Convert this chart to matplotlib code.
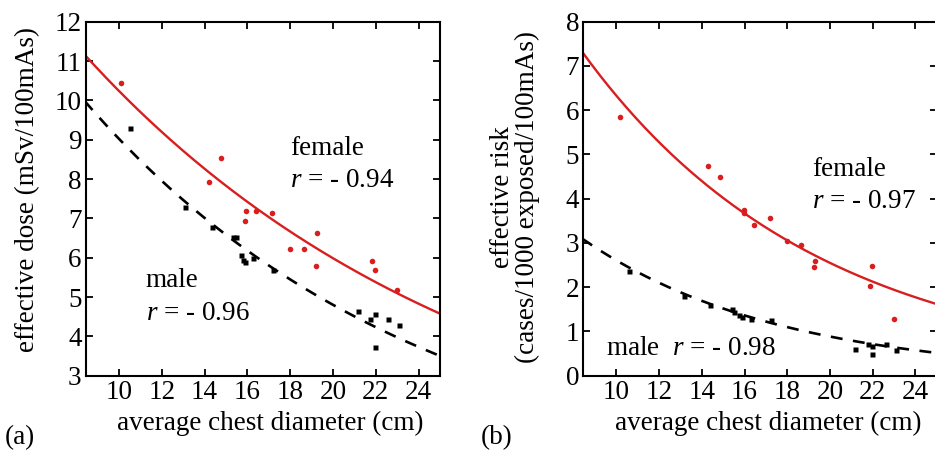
import numpy as np
import matplotlib
matplotlib.use("Agg")
import matplotlib.pyplot as plt

# ── Data ──────────────────────────────────────────────────────────────────────

# (a) effective dose
dose_f_x = [10.08, 14.23, 14.78, 15.92, 15.90, 16.42, 17.17, 17.98, 18.64, 19.27, 19.22, 21.84, 21.94, 22.97]
dose_f_y = [10.43, 7.92, 8.53, 7.20, 6.94, 7.19, 7.13, 6.21, 6.21, 6.64, 5.78, 5.92, 5.69, 5.18]
dose_m_x = [10.52, 13.08, 14.36, 15.31, 15.45, 15.70, 15.78, 15.89, 16.25, 17.19, 21.17, 21.73, 21.98, 21.94, 22.58, 23.10]
dose_m_y = [9.30, 7.28, 6.77, 6.53, 6.53, 6.08, 5.94, 5.90, 6.00, 5.68, 4.65, 4.43, 4.58, 3.73, 4.43, 4.28]

# (b) effective risk
risk_f_x = [10.16, 14.28, 14.84, 15.96, 15.98, 16.44, 17.20, 18.00, 18.66, 19.28, 19.25, 21.85, 21.96, 22.99]
risk_f_y = [5.85, 4.75, 4.50, 3.74, 3.68, 3.40, 3.56, 3.04, 2.96, 2.59, 2.46, 2.03, 2.49, 1.28]
risk_m_x = [10.60, 13.14, 14.39, 15.43, 15.50, 15.75, 15.88, 16.30, 17.22, 21.18, 21.77, 21.97, 21.97, 22.60, 23.10]
risk_m_y = [2.37, 1.80, 1.60, 1.50, 1.44, 1.37, 1.33, 1.28, 1.26, 0.60, 0.71, 0.66, 0.50, 0.72, 0.58]

# exponential fits y = A * exp(-b * x), parameters
fit_dose_f = (17.52, 0.0537)
fit_dose_m = (16.96, 0.0631)
fit_risk_f = (15.70, 0.0909)
fit_risk_m = (7.67, 0.108)

x_ticks = [10, 12, 14, 16, 18, 20, 22, 24]

# ── Style ─────────────────────────────────────────────────────────────────────

plt.rcParams["font.family"] = ["Liberation Serif", "DejaVu Serif"]
plt.rcParams["mathtext.fontset"] = "custom"
plt.rcParams["mathtext.rm"] = "Liberation Serif"
plt.rcParams["mathtext.it"] = "Liberation Serif:italic"

RED = "#d81e1e"
FS = 19.5

fig = plt.figure(figsize=(9.35, 4.58), dpi=100)
ax_a = fig.add_axes([0.0917, 0.1797, 0.379, 0.7729])
ax_b = fig.add_axes([0.6239, 0.1797, 0.378, 0.7729])


def draw_panel(ax, fx, fy, mx, my, fit_f, fit_m, ylim, yticks):
    xs = np.linspace(8.4, 25.0, 200)
    ax.plot(xs, fit_f[0] * np.exp(-fit_f[1] * xs), color=RED, lw=1.7, zorder=2)
    ax.plot(xs, fit_m[0] * np.exp(-fit_m[1] * xs), color="black", lw=1.9,
            dashes=(4.5, 4), zorder=2)
    ax.plot(fx, fy, "o", color=RED, ms=4, mec="none", zorder=3)
    ax.plot(mx, my, "s", color="black", ms=3.6, mec="none", zorder=3)

    ax.set_xlim(8.45, 25.0)
    ax.set_ylim(*ylim)
    ax.set_xticks(x_ticks)
    ax.set_yticks(yticks)
    ax.tick_params(direction="in", top=True, right=True, length=5, width=1.3,
                   labelsize=FS, pad=3)
    for sp in ax.spines.values():
        sp.set_linewidth(1.5)
    ax.set_facecolor("white")


draw_panel(ax_a, dose_f_x, dose_f_y, dose_m_x, dose_m_y, fit_dose_f, fit_dose_m,
           (3, 12), range(3, 13))
draw_panel(ax_b, risk_f_x, risk_f_y, risk_m_x, risk_m_y, fit_risk_f, fit_risk_m,
           (0, 8), range(0, 9))

# annotations
ax_a.text(18.0, 8.78, "female", fontsize=FS, va="center", ha="left")
ax_a.text(18.0, 7.97, "$r$ = - 0.94", fontsize=FS, va="center", ha="left")
ax_a.text(11.25, 5.41, "male", fontsize=FS, va="center", ha="left")
ax_a.text(11.25, 4.58, "$r$ = - 0.96", fontsize=FS, va="center", ha="left")

ax_b.text(19.18, 4.65, "female", fontsize=FS, va="center", ha="left")
ax_b.text(19.18, 3.93, "$r$ = - 0.97", fontsize=FS, va="center", ha="left")
ax_b.text(9.53, 0.62, "male  $r$ = - 0.98", fontsize=FS, va="center", ha="left")

# axis labels
W, H = 935.0, 458.0
fig.text(270 / W, 1 - 423 / H, "average chest diameter (cm)", fontsize=FS,
         ha="center", va="center")
fig.text(768 / W, 1 - 423 / H, "average chest diameter (cm)", fontsize=FS,
         ha="center", va="center")
fig.text(28 / W, 1 - 190 / H, "effective dose (mSv/100mAs)", fontsize=FS,
         ha="center", va="center", rotation=90)
fig.text(515 / W, 1 - 197 / H, "effective risk\n(cases/1000 exposed/100mAs)",
         fontsize=FS, ha="center", va="center", rotation=90, linespacing=1.0)

fig.text(20 / W, 1 - 438 / H, "(a)", fontsize=FS, ha="center", va="center")
fig.text(497 / W, 1 - 438 / H, "(b)", fontsize=FS, ha="center", va="center")

fig.savefig("out.png", dpi=100)
